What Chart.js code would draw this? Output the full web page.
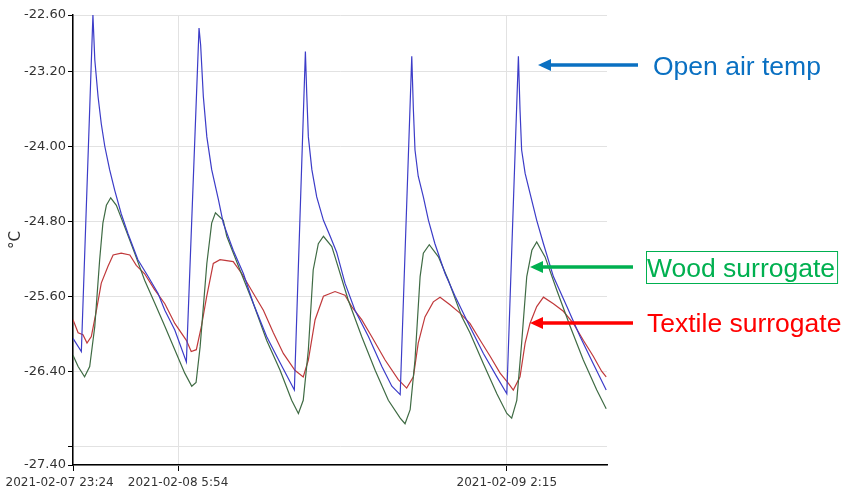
<!DOCTYPE html>
<html>
<head>
<meta charset="utf-8">
<script src="https://cdn.jsdelivr.net/npm/chart.js@4.4.1/dist/chart.umd.min.js"></script>
<style>
  body { margin: 0; background: #fff; }
  #wrap { width: 845px; height: 494px; }
</style>
</head>
<body>
<div id="wrap"><canvas id="tempChart" width="845" height="494"></canvas></div>
<script>
// minutes since 2021-02-07 23:24
var seriesNames = ['Open air temp', 'Wood surrogate', 'Textile surrogate'];

var airTimes = [0, 31, 74, 81, 93, 105, 118, 136, 155, 179, 204, 241, 279, 316, 341, 378, 421,
  468, 474, 484, 497, 515, 540, 558, 595, 633, 670, 719, 769, 822,
  863, 868, 874, 887, 905, 930, 955, 979, 1010, 1047, 1097, 1147, 1184, 1215,
  1258, 1264, 1270, 1282, 1301, 1320, 1344, 1382, 1419, 1468, 1524, 1574, 1611,
  1654, 1660, 1666, 1679, 1697, 1722, 1747, 1784, 1834, 1883, 1932, 1980];
var airTemps = [-26.05, -26.19, -22.60, -23.08, -23.47, -23.76, -24.00, -24.25, -24.47, -24.72, -24.93, -25.21, -25.39, -25.57, -25.75, -25.96, -26.30,
  -22.74, -22.92, -23.47, -23.90, -24.25, -24.57, -24.82, -25.11, -25.36, -25.68, -26.03, -26.31, -26.60,
  -22.99, -23.44, -23.90, -24.25, -24.54, -24.79, -24.96, -25.13, -25.46, -25.75, -26.03, -26.35, -26.56, -26.65,
  -23.04, -23.61, -24.04, -24.32, -24.54, -24.79, -25.04, -25.36, -25.60, -25.89, -26.21, -26.46, -26.64,
  -23.04, -23.61, -24.04, -24.29, -24.50, -24.79, -25.04, -25.39, -25.71, -26.03, -26.32, -26.60];

var woodTimes = [0, 19, 43, 62, 81, 99, 111, 124, 140, 161, 192, 229, 266, 303, 341, 378, 415,
  441, 457, 472, 497, 515, 529, 558, 571, 620, 670, 719, 769, 812,
  837, 855, 874, 892, 911, 930, 961, 973, 1022, 1072, 1122, 1171, 1215,
  1233, 1252, 1270, 1289, 1301, 1323, 1357, 1394, 1444, 1474, 1524, 1574, 1611,
  1629, 1648, 1666, 1685, 1704, 1722, 1753, 1796, 1846, 1895, 1945, 1980];
var woodTemps = [-26.23, -26.35, -26.46, -26.35, -25.92, -25.21, -24.82, -24.63, -24.55, -24.63, -24.86, -25.14, -25.43, -25.67, -25.92, -26.17, -26.42,
  -26.56, -26.52, -26.14, -25.25, -24.82, -24.71, -24.79, -24.96, -25.32, -25.68, -26.07, -26.39, -26.71,
  -26.85, -26.71, -26.17, -25.32, -25.04, -24.96, -25.07, -25.18, -25.64, -26.03, -26.39, -26.71, -26.90,
  -26.96, -26.81, -26.28, -25.39, -25.14, -25.05, -25.18, -25.43, -25.82, -25.99, -26.32, -26.64, -26.85,
  -26.90, -26.71, -26.10, -25.39, -25.11, -25.02, -25.18, -25.53, -25.92, -26.28, -26.60, -26.80];

var textileTimes = [0, 19, 37, 52, 68, 87, 105, 130, 149, 179, 211, 235, 266, 303, 341, 378, 421,
  439, 458, 477, 496, 521, 546, 595, 627, 670, 707, 744, 781, 824,
  855, 874, 899, 930, 973, 1010, 1035, 1072, 1109, 1159, 1208,
  1239, 1264, 1282, 1307, 1338, 1363, 1400, 1437, 1474, 1512, 1549, 1586, 1617,
  1635, 1660, 1679, 1697, 1722, 1747, 1784, 1821, 1858, 1895, 1932, 1963, 1980];
var textileTemps = [-25.85, -25.99, -26.01, -26.10, -26.03, -25.75, -25.46, -25.28, -25.16, -25.14, -25.16, -25.27, -25.36, -25.53, -25.68, -25.89, -26.07,
  -26.19, -26.17, -25.92, -25.61, -25.25, -25.21, -25.23, -25.36, -25.57, -25.75, -25.99, -26.21, -26.39,
  -26.46, -26.28, -25.85, -25.60, -25.55, -25.59, -25.71, -25.85, -26.03, -26.28, -26.49,
  -26.58, -26.46, -26.10, -25.82, -25.66, -25.61, -25.69, -25.78, -25.89, -26.07, -26.24, -26.42, -26.53,
  -26.60, -26.46, -26.10, -25.89, -25.71, -25.61, -25.68, -25.76, -25.89, -26.07, -26.24, -26.40, -26.46];

var xTickMinutes = [0, 390, 1611];
var xTickLabels = ['2021-02-07 23:24', '2021-02-08 5:54', '2021-02-09 2:15'];
var yTickValues = [-27.4, -27.2, -26.4, -25.6, -24.8, -24.0, -23.2, -22.6];
var yTickLabels = ['-27.40', '', '-26.40', '-25.60', '-24.80', '-24.00', '-23.20', '-22.60'];

function toPoints(times, temps) {
  return times.map(function (t, i) { return { x: t, y: temps[i] }; });
}

// arrows + labels on the right side
var calloutPlugin = {
  id: 'callouts',
  afterDraw: function (chart) {
    var ctx = chart.ctx;
    var items = [
      { text: seriesNames[0], color: '#0a70c2', tipX: 538, y: 65, tailX: 638, textX: 653, base: 75, box: false },
      { text: seriesNames[1], color: '#00b050', tipX: 530, y: 267, tailX: 633, textX: 647, base: 277, box: true },
      { text: seriesNames[2], color: '#ff0000', tipX: 530, y: 323, tailX: 633, textX: 647, base: 332, box: false }
    ];
    ctx.save();
    items.forEach(function (it) {
      ctx.strokeStyle = it.color;
      ctx.fillStyle = it.color;
      ctx.lineWidth = 3.5;
      ctx.beginPath();
      ctx.moveTo(it.tailX, it.y);
      ctx.lineTo(it.tipX + 10, it.y);
      ctx.stroke();
      ctx.beginPath();
      ctx.moveTo(it.tipX, it.y);
      ctx.lineTo(it.tipX + 13, it.y - 6);
      ctx.lineTo(it.tipX + 13, it.y + 6);
      ctx.closePath();
      ctx.fill();
      ctx.font = '26.5px "Liberation Sans", Arial, sans-serif';
      ctx.textAlign = 'left';
      ctx.textBaseline = 'alphabetic';
      ctx.fillText(it.text, it.textX, it.base);
      if (it.box) {
        var w = ctx.measureText(it.text).width;
        ctx.lineWidth = 1;
        ctx.strokeRect(it.textX - 0.5, 251.5, w + 3, 32);
      }
    });
    ctx.restore();
  }
};

var chart = new Chart(document.getElementById('tempChart'), {
  type: 'line',
  data: {
    datasets: [{
      label: seriesNames[0],
      data: toPoints(airTimes, airTemps),
      borderColor: '#3c3cc8',
      borderWidth: 1.2
    }, {
      label: seriesNames[1],
      data: toPoints(woodTimes, woodTemps),
      borderColor: '#3f6b44',
      borderWidth: 1.2
    }, {
      label: seriesNames[2],
      data: toPoints(textileTimes, textileTemps),
      borderColor: '#c0393b',
      borderWidth: 1.2
    }]
  },
  options: {
    responsive: false,
    animation: false,
    devicePixelRatio: 1,
    layout: { padding: { left: 0, right: 238, top: 15, bottom: 0 } },
    elements: { point: { radius: 0 }, line: { tension: 0 } },
    plugins: { legend: { display: false }, tooltip: { enabled: false } },
    scales: {
      x: {
        type: 'linear',
        min: 0,
        max: 1983,
        afterBuildTicks: function (scale) {
          scale.ticks = xTickMinutes.map(function (v) { return { value: v }; });
        },
        afterFit: function (scale) { scale.height = 29; },
        ticks: {
          autoSkip: false,
          maxRotation: 0,
          padding: 5,
          color: '#333',
          font: { family: 'DejaVu Sans', size: 12 },
          callback: function (v, i) {
            // first label sits a bit left of its tick in the original
            return i === 0 ? xTickLabels[i] + '       ' : xTickLabels[i];
          }
        },
        grid: { color: '#e2e2e2', tickColor: '#000', tickLength: 6 },
        border: { color: '#000', width: 1.5 }
      },
      y: {
        min: -27.4,
        max: -22.6,
        afterBuildTicks: function (scale) {
          scale.ticks = yTickValues.map(function (v) { return { value: v }; });
        },
        afterFit: function (scale) { scale.width = 73; },
        ticks: {
          padding: 2,
          color: '#333',
          font: { family: 'DejaVu Sans', size: 13 },
          callback: function (v, i) { return yTickLabels[i]; }
        },
        grid: { color: '#e2e2e2', tickColor: '#000', tickLength: 5 },
        border: { color: '#000', width: 1.5 },
        title: {
          display: true,
          text: '°C',
          color: '#333',
          font: { family: 'DejaVu Sans', size: 15 },
          padding: { top: 7, bottom: 0 }
        }
      }
    }
  },
  plugins: [calloutPlugin]
});
</script>
</body>
</html>
